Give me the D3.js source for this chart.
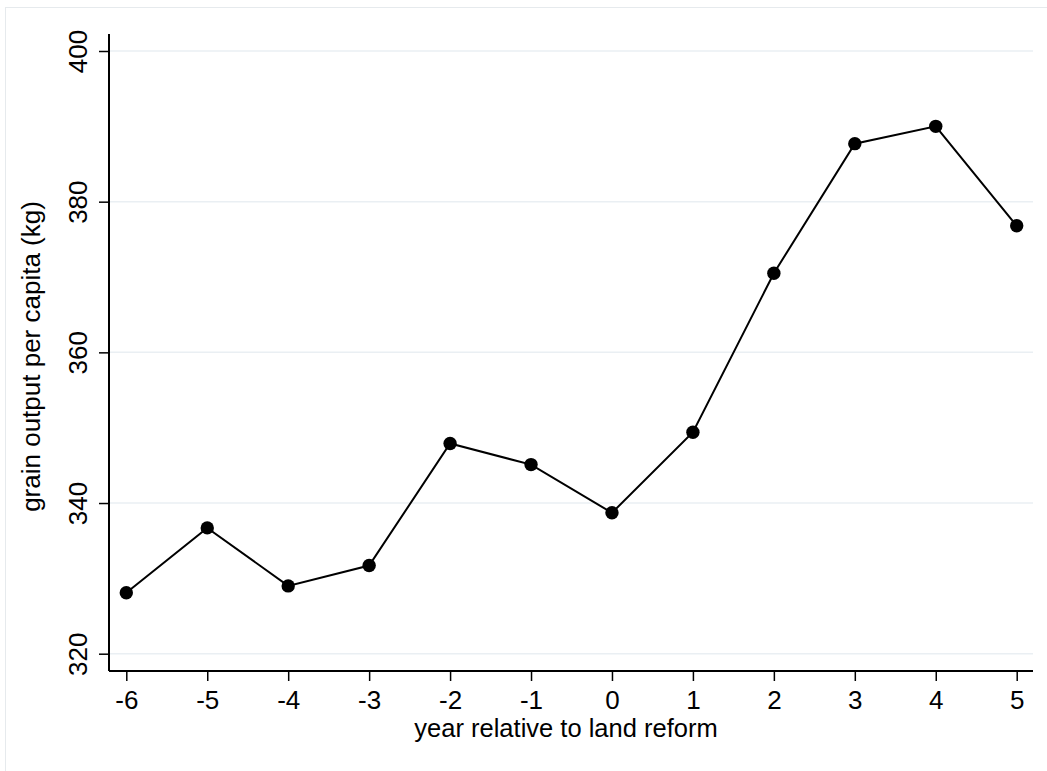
<!DOCTYPE html>
<html>
<head>
<meta charset="utf-8">
<script src="https://cdn.jsdelivr.net/npm/d3@7"></script>
<style>
  body { margin: 0; background: #fff; }
  svg { display: block; font-family: "Liberation Sans", Arial, sans-serif; }
</style>
</head>
<body>
<div id="chart"></div>
<script>
// data
const years = [-6, -5, -4, -3, -2, -1, 0, 1, 2, 3, 4, 5];
const grain = [328.1, 336.7, 329.0, 331.7, 347.9, 345.1, 338.7, 349.4, 370.5, 387.7, 390.0, 376.8];
const yTicks = [320, 340, 360, 380, 400];

const W = 1047, H = 771;
const plotL = 109, plotR = 1033, plotT = 34, plotB = 671;

const svg = d3.select('#chart').append('svg').attr('width', W).attr('height', H);

// faint outer frame (only top/left visible in the reference)
svg.append('rect')
  .attr('x', 5.5).attr('y', 7.5).attr('width', 1200).attr('height', 900)
  .attr('fill', 'none').attr('stroke', '#e6eaed').attr('stroke-width', 1);

const x = d3.scaleLinear().domain([-6, 5]).range([126.3, 1016.7]);
const y = d3.scaleLinear().domain([320, 400]).range([653.7, 51]);

// gridlines
svg.append('g').selectAll('line')
  .data(yTicks)
  .join('line')
  .attr('x1', plotL).attr('x2', plotR)
  .attr('y1', d => y(d)).attr('y2', d => y(d))
  .attr('stroke', '#eaeff3').attr('stroke-width', 1.5);

// y axis
const yAxis = svg.append('g')
  .attr('transform', `translate(${plotL},0)`)
  .call(d3.axisLeft(y).tickValues(yTicks).tickSize(10).tickPadding(12));
yAxis.select('.domain').attr('d', `M0,${plotT}V${plotB}`).attr('stroke', '#000').attr('stroke-width', 2);
yAxis.selectAll('.tick line').attr('stroke', '#000').attr('stroke-width', 1.5);
yAxis.selectAll('.tick text')
  .attr('font-size', 26).attr('fill', '#000')
  .attr('text-anchor', 'middle')
  .attr('transform', 'rotate(-90)')
  .attr('x', 0).attr('y', -22).attr('dy', 0);

// x axis
const xAxis = svg.append('g')
  .attr('transform', `translate(0,${plotB})`)
  .call(d3.axisBottom(x).tickValues(years).tickSize(10).tickPadding(8).tickFormat(d => String(d)));
xAxis.select('.domain').attr('d', `M${plotL},0H${plotR}`).attr('stroke', '#000').attr('stroke-width', 2);
xAxis.selectAll('.tick line').attr('stroke', '#000').attr('stroke-width', 1.5);
xAxis.selectAll('.tick text')
  .attr('font-size', 26).attr('fill', '#000')
  .attr('y', 38).attr('dy', 0);

// axis titles
svg.append('text')
  .attr('x', (plotL + plotR) / 2 - 5).attr('y', 737)
  .attr('text-anchor', 'middle').attr('font-size', 25.5).attr('fill', '#000')
  .text('year relative to land reform');

svg.append('text')
  .attr('transform', `translate(40,${(plotT + plotB) / 2 + 4}) rotate(-90)`)
  .attr('text-anchor', 'middle').attr('font-size', 26).attr('fill', '#000')
  .text('grain output per capita (kg)');

// series
const line = d3.line().x((d, i) => x(years[i])).y(d => y(d));
svg.append('path')
  .datum(grain)
  .attr('d', line)
  .attr('fill', 'none').attr('stroke', '#000').attr('stroke-width', 2);

svg.append('g').selectAll('circle')
  .data(grain)
  .join('circle')
  .attr('cx', (d, i) => x(years[i]))
  .attr('cy', d => y(d))
  .attr('r', 6.7)
  .attr('fill', '#000');
</script>
</body>
</html>
